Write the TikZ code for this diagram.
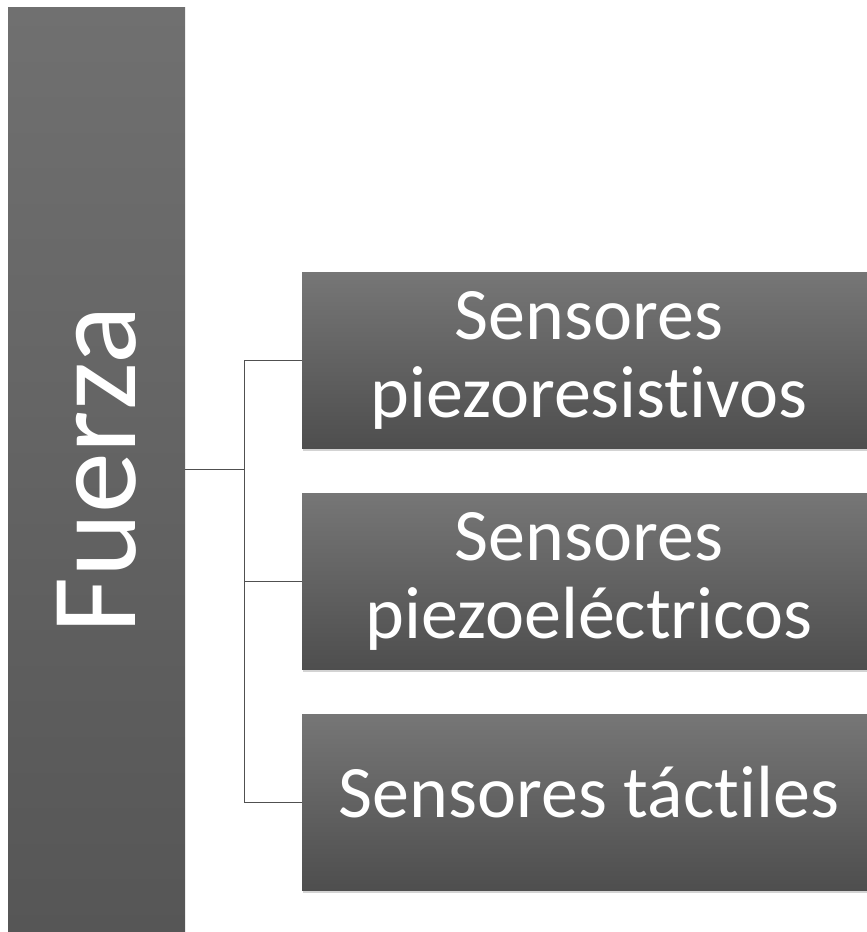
\documentclass[tikz,border=0pt]{standalone}
\usepackage{fontspec}
\setmainfont{Carlito}[Ligatures=NoCommon]
\usetikzlibrary{positioning, shadows}

\definecolor{barTop}{RGB}{112,112,112}
\definecolor{barBot}{RGB}{86,86,86}
\definecolor{boxTop}{RGB}{118,118,118}
\definecolor{boxBot}{RGB}{78,78,78}
\definecolor{linkGray}{RGB}{80,80,80}

\begin{document}
\begin{tikzpicture}[x=1pt,y=1pt,
  bar/.style={top color=barTop, bottom color=barBot, minimum width=177pt,
    minimum height=924pt, inner sep=0pt, outer sep=0pt, text=white,
    font=\fontsize{122}{122}\selectfont},
  sensor/.style={top color=boxTop, bottom color=boxBot, minimum width=574pt,
    minimum height=176pt, inner sep=0pt, outer sep=0pt, text=white, align=center,
    font=\fontsize{74}{78}\selectfont,
    drop shadow={shadow xshift=1pt, shadow yshift=-3pt, opacity=0.35}},
  link/.style={draw=linkGray, line width=1pt}]
\useasboundingbox (0,0) rectangle (867,932);
% Left column
\node[bar] (fuerza) at (96.5,462) {\rotatebox{90}{Fuerza}};
% Sensor boxes
\node[sensor] (pres) at (589,571.5) {Sensores\\piezoresistivos};
\node[sensor, below=45pt of pres] (pele) {Sensores\\piezoeléctricos};
\node[sensor, below=45pt of pele, text depth=21pt] (ptac) {Sensores táctiles};
% Bracket
\coordinate (split) at ([xshift=59pt]fuerza.east);
\draw[link] (fuerza.east) -- (split);
\draw[link] (split |- pres.west) -- (split |- ptac.west);
\foreach \s in {pres,pele,ptac}
  \draw[link] (split |- \s.west) -- (\s.west);
\end{tikzpicture}
\end{document}
